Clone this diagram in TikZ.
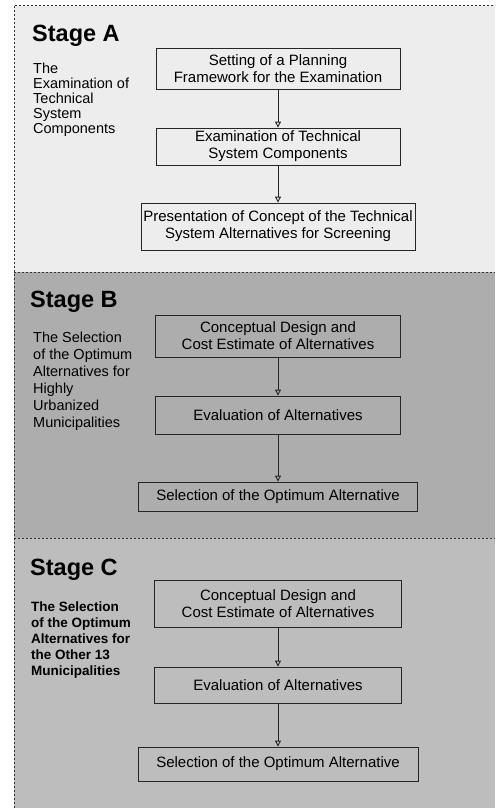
\documentclass[tikz,border=0pt]{standalone}
\usepackage{fontspec}
\setmainfont{Liberation Sans}
\usetikzlibrary{arrows.meta}
\begin{document}
\begin{tikzpicture}[x=1pt,y=-1pt,
  stepbox/.style={draw=black!85,line width=0.8pt,align=center,inner sep=0pt,
    font=\fontsize{15}{17}\selectfont},
  stagetitle/.style={anchor=base west,inner sep=0pt,font=\bfseries\fontsize{23.5}{26}\selectfont},
  stagenote/.style={anchor=north west,align=left,inner sep=0pt},
  flow/.style={draw=black!85,line width=0.9pt,-{Triangle[open,length=6pt,width=6pt]}},
  panelline/.style={black!80,dash pattern=on 2pt off 2pt,line width=0.7pt}]
\useasboundingbox (0,0) rectangle (495,808);
\fill[black!7] (14,5) rectangle (495,272);
\fill[black!32] (14,272) rectangle (495,538);
\fill[black!26] (14,538) rectangle (495,808);
\draw[panelline] (14,808) -- (14,5) -- (495,5);
\draw[panelline] (14,272) -- (495,272);
\draw[panelline] (14,538) -- (495,538);

\node[stagetitle] (stA) at (32,42) {Stage A};
\node[stagenote,font=\fontsize{14.5}{15}\selectfont] (noteA) at (33,63)
  {The\\Examination of\\Technical\\System\\Components};
\node[stepbox,minimum width=244pt,minimum height=41pt] (a1) at (278,68.5)
  {Setting of a Planning\\Framework for the Examination};
\node[stepbox,minimum width=244pt,minimum height=37pt] (a2) at (278,146.5)
  {Examination of Technical\\System Components};
\node[stepbox,minimum width=274pt,minimum height=47pt] (a3) at (278,226.5)
  {Presentation of Concept of the Technical\\System Alternatives for Screening};
\draw[flow] (a1) -- (a2);
\draw[flow] (a2) -- (a3);

\node[stagetitle] (stB) at (30,307) {Stage B};
\node[stagenote,font=\fontsize{14.5}{17}\selectfont] (noteB) at (33,332)
  {The Selection\\of the Optimum\\Alternatives for\\Highly\\Urbanized\\Municipalities};
\node[stepbox,minimum width=245pt,minimum height=42pt] (b1) at (278,336)
  {Conceptual Design and\\Cost Estimate of Alternatives};
\node[stepbox,minimum width=245pt,minimum height=38pt] (b2) at (278,415)
  {Evaluation of Alternatives};
\node[stepbox,minimum width=279pt,minimum height=29pt] (b3) at (278,496.5)
  {Selection of the Optimum Alternative};
\draw[flow] (b1) -- (b2);
\draw[flow] (b2) -- (b3);

\node[stagetitle] (stC) at (30,575) {Stage C};
\node[stagenote,font=\bfseries\fontsize{13.5}{16}\selectfont] (noteC) at (31,602)
  {The Selection\\of the Optimum\\Alternatives for\\the Other 13\\Municipalities};
\node[stepbox,minimum width=247pt,minimum height=47pt] (c1) at (278,603.5)
  {Conceptual Design and\\Cost Estimate of Alternatives};
\node[stepbox,minimum width=247pt,minimum height=36pt] (c2) at (278,685)
  {Evaluation of Alternatives};
\node[stepbox,minimum width=280pt,minimum height=34pt] (c3) at (278,764)
  {Selection of the Optimum Alternative};
\draw[flow] (c1) -- (c2);
\draw[flow] (c2) -- (c3);
\end{tikzpicture}
\end{document}
